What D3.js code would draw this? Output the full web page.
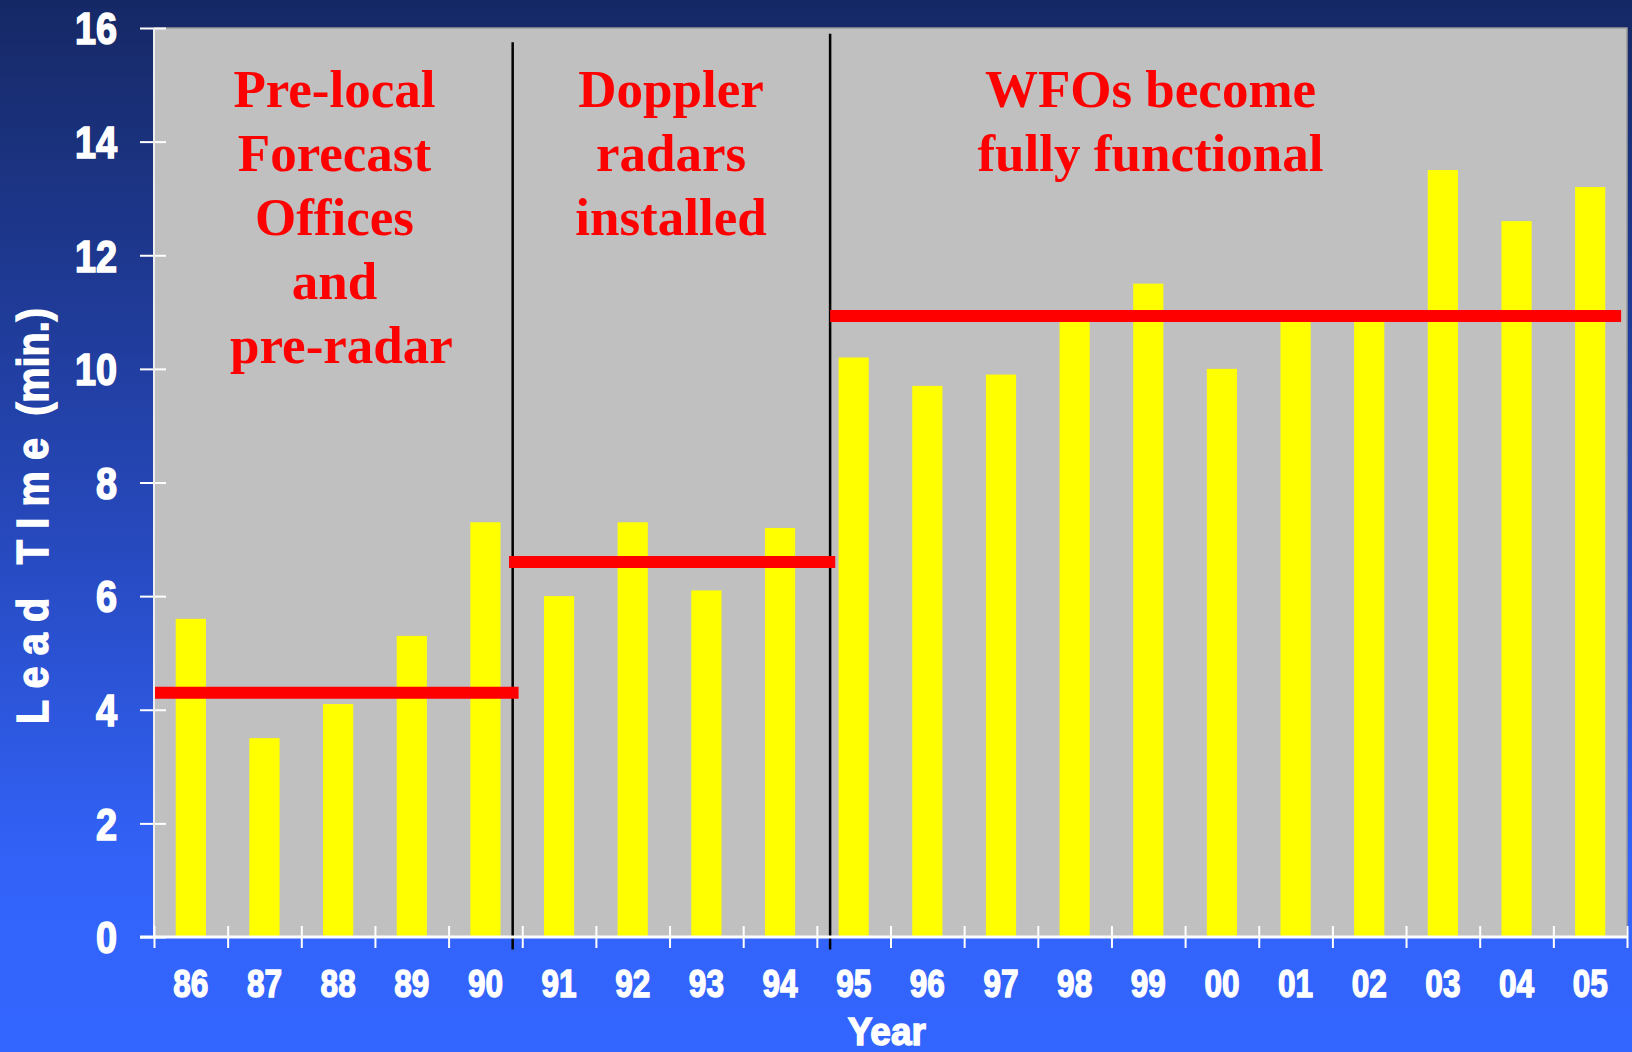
<!DOCTYPE html>
<html>
<head>
<meta charset="utf-8">
<script src="https://cdn.jsdelivr.net/npm/d3@7"></script>
<style>
body { margin: 0; overflow: hidden; background: #162a6a; }
</style>
</head>
<body>
<script>
// chart values
const years = ["86", "87", "88", "89", "90", "91", "92", "93", "94", "95",
	"96", "97", "98", "99", "00", "01", "02", "03", "04", "05"];
const leadTime = [5.6, 3.5, 4.1, 5.3, 7.3, 6.0, 7.3, 6.1, 7.2, 10.2,
	9.7, 9.9, 10.9, 11.5, 10.0, 10.9, 10.9, 13.5, 12.6, 13.2];
const yTicks = [0, 2, 4, 6, 8, 10, 12, 14, 16];

// periods (in year-slot units) and their average lines
const dividerAt = [4.87, 9.18];
const periodFrom = [0, 4.82, 9.18];
const periodTo = [4.95, 9.25, 19.92];
const periodMean = [4.3, 6.6, 10.93];
const periodText = [
	["Pre-local", "Forecast", "Offices", "and", "pre-radar"],
	["Doppler", "radars", "installed"],
	["WFOs become", "fully functional"]
];

const width = 1632, height = 1052;
const margin = {top: 28, right: 5, bottom: 115, left: 154};
const labelSlot = [2.45, 7.02, 13.53]; // where each period caption is centred

const svg = d3.select("body").append("svg")
	.attr("width", width)
	.attr("height", height);

const grad = svg.append("defs").append("linearGradient")
	.attr("id", "bg")
	.attr("x1", 0).attr("y1", 0).attr("x2", 0).attr("y2", 1);
grad.append("stop").attr("offset", "0").attr("stop-color", "#152866");
grad.append("stop").attr("offset", "0.04").attr("stop-color", "#172b6c");
grad.append("stop").attr("offset", "0.5").attr("stop-color", "#2648bb");
grad.append("stop").attr("offset", "0.82").attr("stop-color", "#3262f8");
grad.append("stop").attr("offset", "1").attr("stop-color", "#3366ff");

svg.append("rect")
	.attr("width", width)
	.attr("height", height)
	.attr("fill", "url(#bg)");

const x = d3.scaleBand()
	.domain(years)
	.range([margin.left, width - margin.right]);

// same range, but counted in year slots (for boundaries)
const xi = d3.scaleLinear()
	.domain([0, years.length])
	.range(x.range());

const y = d3.scaleLinear()
	.domain([0, 16])
	.range([height - margin.bottom, margin.top]);

// plot background
svg.append("rect")
	.attr("x", xi(0))
	.attr("y", y(16))
	.attr("width", xi(years.length) - xi(0))
	.attr("height", y(0) - y(16))
	.attr("fill", "#c0c0c0");

svg.append("path")
	.attr("d", `M${xi(0)},${y(16)}H${xi(years.length)}V${y(0)}`)
	.attr("fill", "none")
	.attr("stroke", "#9a9a9a")
	.attr("stroke-width", 1.5);

// bars
const barW = x.bandwidth() * 0.41;
svg.append("g")
	.selectAll("rect")
	.data(leadTime)
	.enter().append("rect")
	.attr("x", (d, i) => x(years[i]) + (x.bandwidth() - barW) / 2)
	.attr("y", d => y(d))
	.attr("width", barW)
	.attr("height", d => y(0) - y(d))
	.attr("fill", "#ffff00");

// period dividers
svg.append("g")
	.selectAll("line")
	.data(dividerAt)
	.enter().append("line")
	.attr("x1", d => xi(d))
	.attr("x2", d => xi(d))
	.attr("y1", (d, i) => i === 0 ? y(15.75) : y(15.9))
	.attr("y2", y(-0.22))
	.attr("stroke", "#000")
	.attr("stroke-width", 2.5);

// period average lines
svg.append("g")
	.selectAll("line")
	.data(periodMean)
	.enter().append("line")
	.attr("x1", (d, i) => xi(periodFrom[i]))
	.attr("x2", (d, i) => xi(periodTo[i]))
	.attr("y1", d => y(d))
	.attr("y2", d => y(d))
	.attr("stroke", "#ff0000")
	.attr("stroke-width", 12);

// period captions
periodText.forEach(function(lines, i) {
	svg.append("text")
		.attr("text-anchor", "middle")
		.attr("font-family", "'Liberation Serif', 'Times New Roman', serif")
		.attr("font-weight", "bold")
		.attr("font-size", 53)
		.attr("fill", "#ff0000")
		.selectAll("tspan")
		.data(lines)
		.enter().append("tspan")
		.attr("x", d => xi(labelSlot[i]) + (d === "pre-radar" ? 7 : 0))
		.attr("y", (d, j) => 107 + j * 64)
		.text(d => d);
});

// y axis
const yAxis = svg.append("g")
	.attr("transform", `translate(${margin.left},0)`)
	.call(d3.axisLeft(y).tickValues(yTicks).tickSize(14))
	.call(g => g.select(".domain").remove());
yAxis.selectAll(".tick line")
	.attr("x1", 12)
	.attr("stroke", "#fff")
	.attr("stroke-width", 2);
yAxis.selectAll(".tick text")
	.attr("x", 0)
	.attr("dy", "0.36em")
	.attr("transform", "translate(-37,0) scale(0.86,1)")
	.attr("fill", "#fff")
	.attr("stroke", "#fff")
	.attr("stroke-width", 1.6)
	.attr("font-family", "'Liberation Sans', Arial, sans-serif")
	.attr("font-weight", "bold")
	.attr("font-size", 44);

svg.append("line")
	.attr("x1", margin.left).attr("x2", margin.left)
	.attr("y1", y(16)).attr("y2", y(0))
	.attr("stroke", "#eeeeee")
	.attr("stroke-width", 2);

// x axis: tick marks on slot boundaries, labels on slot centres
const xTickAxis = svg.append("g")
	.attr("transform", `translate(0,${y(0)})`)
	.call(d3.axisBottom(xi).tickValues(d3.range(years.length + 1)).tickSize(11).tickFormat(""))
	.call(g => g.select(".domain").remove());
xTickAxis.selectAll(".tick line")
	.attr("y1", -11)
	.attr("stroke", "#fff")
	.attr("stroke-width", 2);

svg.append("line")
	.attr("x1", margin.left - 14).attr("x2", xi(years.length))
	.attr("y1", y(0)).attr("y2", y(0))
	.attr("stroke", "#fff")
	.attr("stroke-width", 3);

const xAxis = svg.append("g")
	.attr("transform", `translate(0,${y(0)})`)
	.call(d3.axisBottom(x).tickSize(0))
	.call(g => g.select(".domain").remove());
xAxis.selectAll(".tick text")
	.attr("y", 0)
	.attr("dy", 0)
	.attr("transform", "translate(0,60) scale(0.83,1)")
	.attr("fill", "#fff")
	.attr("stroke", "#fff")
	.attr("stroke-width", 1.4)
	.attr("font-family", "'Liberation Sans', Arial, sans-serif")
	.attr("font-weight", "bold")
	.attr("font-size", 38);

// axis titles
svg.append("text")
	.attr("transform", `translate(${xi(9.95)},1045) scale(0.95,1)`)
	.attr("text-anchor", "middle")
	.attr("fill", "#fff")
	.attr("stroke", "#fff")
	.attr("stroke-width", 1.4)
	.attr("font-family", "'Liberation Sans', Arial, sans-serif")
	.attr("font-weight", "bold")
	.attr("font-size", 39)
	.text("Year");

const yTitle = svg.append("text")
	.attr("transform", "translate(48,516) rotate(-90) scale(0.9,1)")
	.attr("text-anchor", "middle")
	.attr("fill", "#fff")
	.attr("stroke", "#fff")
	.attr("stroke-width", 1.4)
	.attr("font-family", "'Liberation Sans', Arial, sans-serif")
	.attr("font-weight", "bold")
	.attr("font-size", 44);
yTitle.append("tspan")
	.attr("letter-spacing", 12.5)
	.text("Lead TIme");
yTitle.append("tspan")
	.text(" (min.)");
</script>
</body>
</html>
